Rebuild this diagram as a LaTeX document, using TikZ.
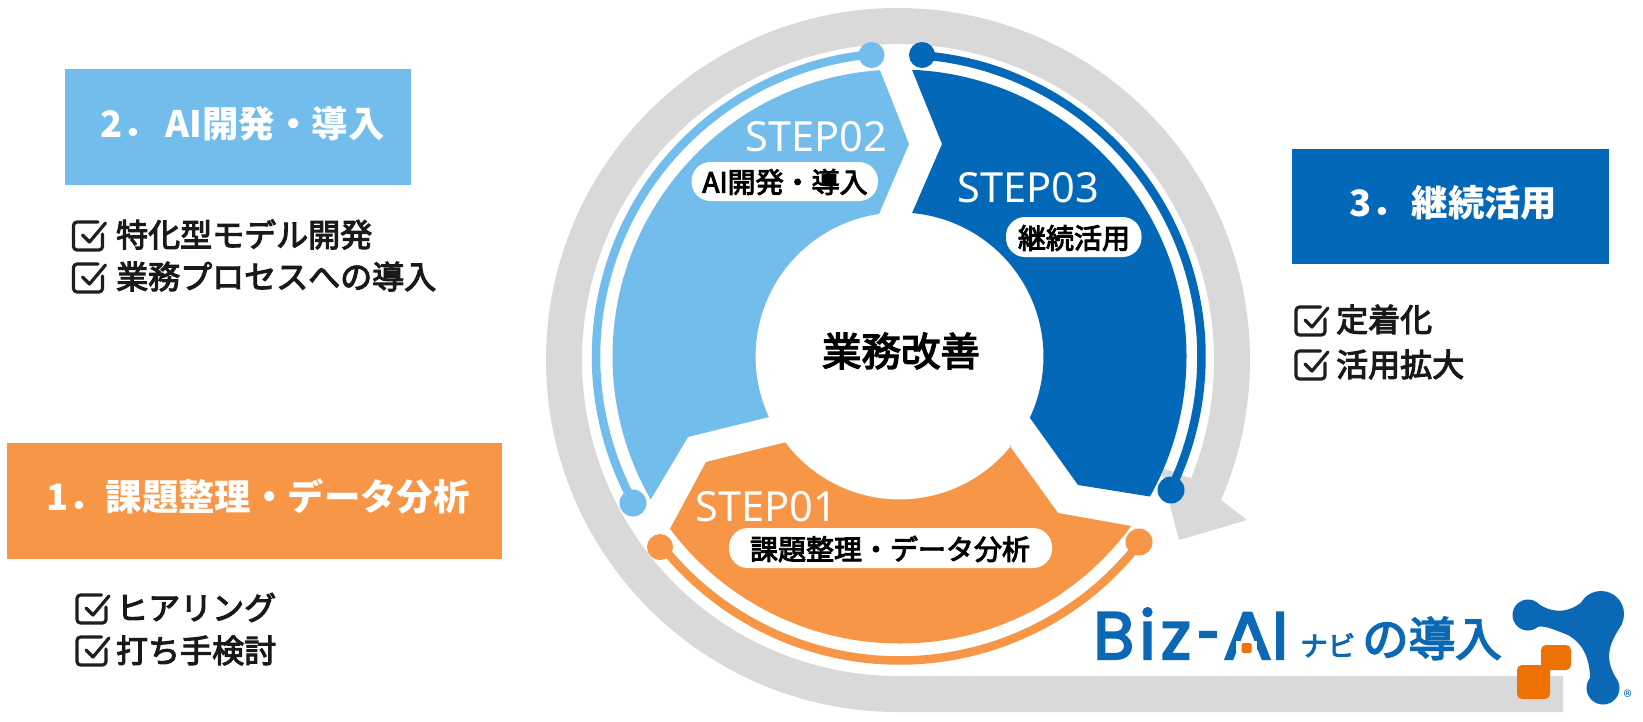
\documentclass[tikz,border=0pt]{standalone}
\usepackage{fontspec}
\setmainfont{Noto Sans CJK JP}
\newfontfamily\medfont{Noto Sans CJK JP}[FakeBold=3.4]
\newfontfamily\stepfont{Noto Sans}
\newfontfamily\logofont{Poppins}[FakeBold=3]
\usetikzlibrary{calc}
\definecolor{lightb}{HTML}{73BDEC}
\definecolor{darkb}{HTML}{0468B8}
\definecolor{orangeb}{HTML}{F79646}
\definecolor{ringgray}{HTML}{D9D9D9}
\definecolor{logob}{HTML}{0B68B5}
\definecolor{logoo}{HTML}{EE7203}
\newcommand{\fsz}[1]{\fontsize{#1}{#1}\selectfont}
\tikzset{
  headtext/.style={text=white,font=\fsz{36.4}\bfseries,inner sep=0pt,anchor=base west},
  listtext/.style={font=\medfont\fsz{32},text=black!90,inner sep=0pt,anchor=west},
  steptext/.style={text=white,font=\stepfont\fsz{41.5},inner sep=0pt},
  pilltext/.style={font=\medfont\fsz{28},text=black,inner sep=0pt},
  thinarc/.style={line width=8.5pt,line cap=butt},
  chk/.pic={
    \draw[line width=3.2pt,line cap=round,line join=round,rounded corners=3.5pt,black!88]
      (9.5,-14) -- (-15,-14) -- (-15,14) -- (14,14) -- (14,-2);
    \draw[line width=3.2pt,line cap=round,line join=round,black!88]
      (-6,-1) -- (1,6) -- (17,-13);
  }
}
\newcommand{\arcC}[3]{($(C)+(#1:#3)$) arc[start angle=#1,end angle=#2,radius=#3]}
\begin{document}
\begin{tikzpicture}[x=1pt,y=-1pt]
\useasboundingbox (0,0) rectangle (1643,721);
\fill[white] (0,0) rectangle (1643,721);
\coordinate (C) at (899.5,356.5);
\coordinate (G) at (898,360);
% grey ring arrow
\fill[ringgray] (1563,712) -- (898,712) arc[start angle=90,end angle=383.4,radius=352]
  -- (1247,520) -- (1179,540) -- (1160,467) -- ($(G)+(382:316)$)
  arc[start angle=382,end angle=90,radius=316] -- (1563,676) -- cycle;
% segments
\fill[darkb] \arcC{-87.5}{29.2}{287} -- (1078,485) -- (1030,418) -- ($(C)+(25.2:144)$)
  arc[start angle=25.2,end angle=-85,radius=144] -- (942,144) -- cycle;
\fill[lightb] \arcC{-93.9}{-209.9}{287} -- (688,437) -- (769,417) -- ($(C)+(-204.9:144)$)
  arc[start angle=-204.9,end angle=-98.2,radius=144] -- (909,144) -- cycle;
\fill[orangeb] \arcC{-216.9}{-323.8}{287} -- (1058,513) -- (1009,445) -- ($(C)+(-321.1:143)$)
  arc[start angle=-321.1,end angle=-216.9,radius=143] -- (706,462) -- cycle;
% thin arcs and dots
\draw[thinarc,lightb] \arcC{-95.3}{-208.8}{303.5};
\draw[thinarc,darkb] \arcC{-85.7}{26.2}{302};
\draw[thinarc,orangeb] \arcC{-218.5}{-322.2}{304};
\fill[lightb] (871.5,55) circle[radius=13] (633,503) circle[radius=13.5];
\fill[darkb] (922,55) circle[radius=13] (1171,490) circle[radius=13.5];
\fill[orangeb] (660,547) circle[radius=13] (1139,542) circle[radius=13.5];
% step labels
\node[steptext] (s2) at (816,137) {STEP02};
\node[steptext] (s3) at (1028,188) {STEP03};
\node[steptext] (s1) at (766,507) {STEP01};
% pills
\fill[white,rounded corners=19pt] (691.5,162) rectangle (878,201);
\fill[white,rounded corners=19pt] (1006,217) rectangle (1141.5,257);
\fill[white,rounded corners=19pt] (729,528) rectangle (1052,568);
\node[pilltext] (p2) at (785,182) {AI開発・導入};
\node[pilltext] (p3) at (1074,238) {継続活用};
\node[pilltext] (p1) at (890,549) {課題整理・データ分析};
\node[font=\medfont\fsz{39.5},text=black,inner sep=0pt] (core) at (901,351) {業務改善};
% heading boxes
\fill[lightb] (65,69) rectangle (411,185);
\fill[darkb] (1292,149) rectangle (1609,264);
\fill[orangeb] (7,443) rectangle (502,559);
\node[headtext] (h2) at (100,137) {2．\kern7pt AI開発・導入};
\node[headtext] (h3) at (1349,216) {3．\kern4pt 継続活用};
\node[headtext] (h1) at (46,510) {1．\kern1pt 課題整理・データ分析};
% lists
\pic at (88.5,236) {chk};
\pic at (88.5,278) {chk};
\node[listtext] (l21) at (116,234.5) {特化型モデル開発};
\node[listtext] (l22) at (116,276.5) {業務プロセスへの導入};
\pic at (1311,321) {chk};
\pic at (1311,365) {chk};
\node[listtext] (l31) at (1336,319.5) {定着化};
\node[listtext] (l32) at (1336,364.5) {活用拡大};
\pic at (92,609) {chk};
\pic at (92,651) {chk};
\node[listtext] (l11) at (116,607.5) {ヒアリング};
\node[listtext] (l12) at (116,650.5) {打ち手検討};
% logo
\node[inner sep=0pt,anchor=base west,text=logob,font=\logofont\fsz{67}] (biz) at (1093,659)
  {B\kern5pt i\kern5pt z\kern6pt\scalebox{.62}[1]{-}\kern3pt\scalebox{1.08}[1]{A}\kern0pt I};
\fill[white] (1236,641) rectangle (1257,652);
\fill[logoo,rounded corners=1.5pt] (1241.5,643) rectangle (1251.5,653);
\node[inner sep=0pt,anchor=base west,text=logob,font=\medfont\fsz{27.5}] (navi) at (1300,656) {ナビ};
\node[inner sep=0pt,anchor=base west,text=logob,font=\medfont\fsz{46.5}] (dounyu) at (1362,656) {の導入};
% mark
\fill[logob] (1528,615) circle[radius=15.5] (1601,614) circle[radius=23] (1603,688) circle[radius=16.5];
\fill[logob] (1537,603) .. controls (1550,612) and (1565,615) .. (1582,602)
  -- (1622,624) .. controls (1612,640) and (1602,655) .. (1616,678)
  -- (1590,678) .. controls (1590,660) and (1583,640) .. (1563,633)
  .. controls (1552,629) and (1545,625) .. (1534,627) -- cycle;
\fill[logoo,rounded corners=5pt] (1541,645) rectangle (1571,670);
\fill[logoo,rounded corners=5pt] (1517,665) rectangle (1550,699);
\node[inner sep=0pt,text=logob,font=\fsz{17}] (reg) at (1627.5,697) {®};
\end{tikzpicture}
\end{document}
